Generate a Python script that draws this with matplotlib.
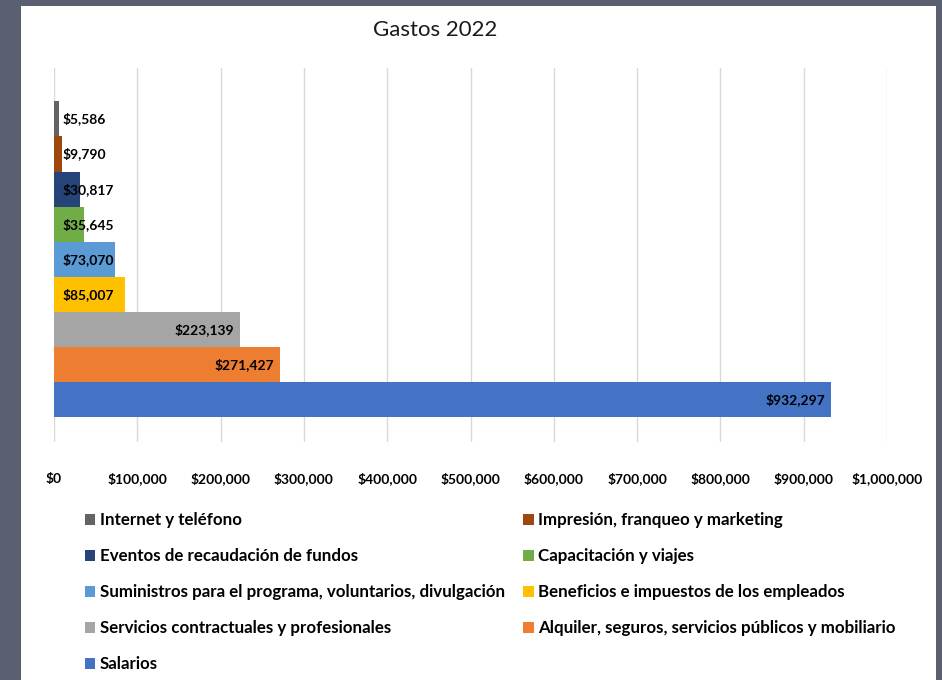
import matplotlib
matplotlib.use("Agg")
import matplotlib.pyplot as plt
from matplotlib.patches import Rectangle, Patch
from matplotlib.ticker import FuncFormatter, MultipleLocator

plt.rcParams['font.family'] = ['Lato', 'DejaVu Sans']

# series in Excel order (bottom to top)
categories = [
    "Salarios",
    "Alquiler, seguros, servicios públicos y mobiliario",
    "Servicios contractuales y profesionales",
    "Beneficios e impuestos de los empleados",
    "Suministros para el programa, voluntarios, divulgación",
    "Capacitación y viajes",
    "Eventos de recaudación de fundos",
    "Impresión, franqueo y marketing",
    "Internet y teléfono",
]
values = [932297, 271427, 223139, 85007, 73070, 35645, 30817, 9790, 5586]
colors = ["#4472C4", "#ED7D31", "#A5A5A5", "#FFC000", "#5B9BD5",
          "#70AD47", "#264478", "#9E480E", "#636363"]
title = "Gastos 2022"

W, H = 942, 680
fig = plt.figure(figsize=(W / 100, H / 100), dpi=100)
fig.patch.set_facecolor("#5b6070")
bg = Rectangle((21 / W, 0), (936 - 21) / W, 1 - 6 / H,
               transform=fig.transFigure, facecolor="white",
               edgecolor="none", zorder=-10)
fig.patches.append(bg)

x0, x1 = 54, 887
ax = fig.add_axes([x0 / W, 1 - 442 / H, (x1 - x0) / W, (442 - 68) / H], zorder=5)
ax.set_facecolor("none")
ypos = list(range(len(values)))
ax.barh(ypos, values, height=1.0, color=colors, zorder=2)
ax.set_xlim(0, 1000000)
ax.set_ylim(-1.2, 9.45)
ax.xaxis.set_major_locator(MultipleLocator(100000))
ax.xaxis.set_major_formatter(FuncFormatter(lambda v, p: f"${v:,.0f}"))
ax.set_yticks([])
ax.grid(axis="x", color="#D9D9D9", linewidth=1, zorder=0)
for s in ax.spines.values():
    s.set_visible(False)
ax.tick_params(axis="x", length=0, pad=22, labelsize=10)
for lab in ax.get_xticklabels():
    lab.set_fontweight("bold")

for y, v in zip(ypos, values):
    txt = f"${v:,.0f}"
    if v > 150000:
        ax.annotate(txt, (v, y), xytext=(-4, 0), textcoords="offset points",
                    ha="right", va="center", fontsize=10, fontweight="bold",
                    color="black", zorder=3)
    else:
        ax.annotate(txt, (0, y), xytext=(6.5, 0), textcoords="offset points",
                    ha="left", va="center", fontsize=10, fontweight="bold",
                    color="black", zorder=3)

fig.text(435 / W, 1 - 30 / H, title, ha="center", va="center", fontsize=16,
         color="#1a1a1a")

# legend: column-major order so rows read Internet, Impresión, ...
order_col1 = [8, 6, 4, 2, 0]
order_col2 = [7, 5, 3, 1]
handles = [Patch(facecolor=colors[i], edgecolor="none") for i in order_col1 + order_col2]
labels = [categories[i] for i in order_col1 + order_col2]
leg = fig.legend(handles, labels, ncol=2, loc="upper left",
                 bbox_to_anchor=(70 / W, 1 - 497 / H), frameon=False,
                 prop={"weight": "bold", "size": 12.2}, handlelength=0.6,
                 handleheight=0.6, handletextpad=0.25, columnspacing=1.1,
                 labelspacing=1.18)

fig.savefig("out.png", dpi=100, facecolor=fig.get_facecolor())
